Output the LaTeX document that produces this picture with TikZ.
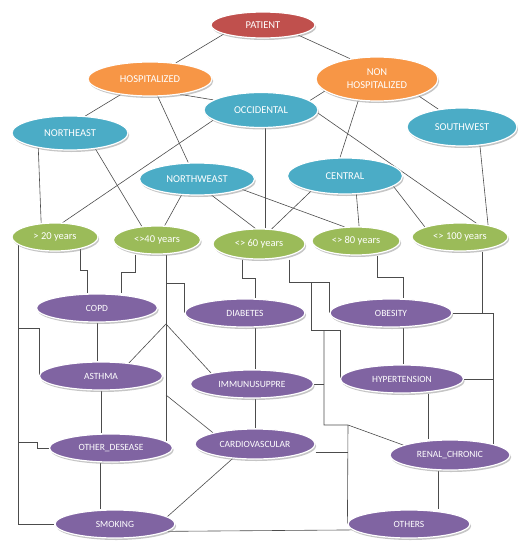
\documentclass[tikz,border=0pt]{standalone}
\usepackage{fontspec}
\setmainfont{Carlito}
\usetikzlibrary{shapes.geometric,shadows,backgrounds}
\definecolor{cred}{HTML}{C0504D}
\definecolor{corange}{HTML}{F79646}
\definecolor{cblue}{HTML}{4BACC6}
\definecolor{cgreen}{HTML}{9BBB59}
\definecolor{cpurple}{HTML}{8064A2}
\begin{document}
\begin{tikzpicture}[x=1pt,y=-1pt,
  bub/.style={ellipse, draw=white, line width=1.2pt, inner sep=0pt, text=white,
    font=\fontsize{10.5}{13}\selectfont, align=center,
    drop shadow={shadow xshift=1.2pt, shadow yshift=-2pt, fill=black!45, opacity=0.5}},
  age/.style={bub, fill=cgreen},
  dis/.style={bub, fill=cpurple, font=\fontsize{9.5}{11}\selectfont},
  reg/.style={bub, fill=cblue},
  conn/.style={draw=black!70, line width=0.6pt}]
\useasboundingbox (0,0) rectangle (518,541);

% top levels
\node[bub, fill=cred, minimum width=104pt, minimum height=26pt] (pat) at (263,25) {PATIENT};
\node[bub, fill=corange, minimum width=124pt, minimum height=34pt] (hosp) at (150,79) {HOSPITALIZED};
\node[bub, fill=corange, minimum width=122pt, minimum height=44pt] (nonh) at (377,79) {NON\\HOSPITALIZED};
% regions
\node[reg, minimum width=114pt, minimum height=35pt] (occ) at (261,110) {OCCIDENTAL};
\node[reg, minimum width=116pt, minimum height=34pt] (ne) at (70,133) {NORTHEAST};
\node[reg, minimum width=110pt, minimum height=38pt] (sw) at (462,127) {SOUTHWEST};
\node[reg, minimum width=115pt, minimum height=32pt] (nw) at (197,179) {NORTHWEAST};
\node[reg, minimum width=115pt, minimum height=36pt] (cen) at (345,176) {CENTRAL};
% ages
\node[age, minimum width=86pt, minimum height=28pt] (a20) at (55,237) {> 20 years};
\node[age, minimum width=87pt, minimum height=28pt] (a40) at (157,240) {<>40 years};
\node[age, minimum width=92pt, minimum height=30pt] (a60) at (259,244) {<> 60 years};
\node[age, minimum width=88pt, minimum height=28pt] (a80) at (356,241) {<> 80 years};
\node[age, minimum width=96pt, minimum height=28pt] (a100) at (460,237) {<> 100 years};
% diseases
\node[dis, minimum width=121pt, minimum height=28pt] (copd) at (97,308) {COPD};
\node[dis, minimum width=120pt, minimum height=28pt] (diab) at (245,313) {DIABETES};
\node[dis, minimum width=122pt, minimum height=28pt] (obes) at (391,313) {OBESITY};
\node[dis, minimum width=123pt, minimum height=28pt] (asth) at (101,376) {ASTHMA};
\node[dis, minimum width=123pt, minimum height=28pt] (immu) at (252,384) {IMMUNUSUPPRE};
\node[dis, minimum width=123pt, minimum height=28pt] (hyp) at (402,379) {HYPERTENSION};
\node[dis, minimum width=123pt, minimum height=28pt] (oth) at (111,448) {OTHER\_DESEASE};
\node[dis, minimum width=120pt, minimum height=30pt] (card) at (255,444) {CARDIOVASCULAR};
\node[dis, minimum width=120pt, minimum height=30pt] (ren) at (450,455) {RENAL\_CHRONIC};
\node[dis, minimum width=120pt, minimum height=28pt] (smok) at (115,524) {SMOKING};
\node[dis, minimum width=122pt, minimum height=28pt] (others) at (409,524) {OTHERS};

% junctions
\coordinate (j20a) at (19,328);
\coordinate (j20b) at (19,442);
\coordinate (j20c) at (37,442);
\coordinate (k20) at (80,270);
\coordinate (k40a) at (135,272);
\coordinate (j40a) at (166,283);
\coordinate (j40b) at (166,324);
\coordinate (j40c) at (166,395);
\coordinate (k60a) at (242,278);
\coordinate (k60b) at (289,282);
\coordinate (k60c) at (311,282);
\coordinate (k60d) at (311,330);
\coordinate (k60e) at (324,330);
\coordinate (k60f) at (324,425);
\coordinate (k60g) at (348,425);
\coordinate (k80) at (377,277);
\coordinate (k100a) at (482,313);
\coordinate (k100b) at (493,313);

\begin{scope}[on background layer]
% upper graph
\draw[conn] (pat.193) -- (hosp.32);
\draw[conn] (pat.-16) -- (nonh.143);
\draw[conn] (hosp.208) -- (ne.48);
\draw[conn] (hosp.-66) -- (nw.118);
\draw[conn] (hosp.-27) -- (occ.168);
\draw[conn] (nonh.193) -- (occ.11);
\draw[conn] (nonh.229) -- (cen.105);
\draw[conn] (nonh.-22) -- (sw.143);
\draw[conn] (occ.192) -- (a20.62);
\draw[conn] ([xshift=4pt]occ.south) -- ([xshift=4pt]occ.south |- a60.north);
\draw[conn] (occ.-3) -- (a100.40);
\draw[conn] (ne.205) -- (a20.135);
\draw[conn] (ne.-32) -- (a40.138);
\draw[conn] (nw.226) -- (a40.62);
\draw[conn] (nw.-48) -- (a60.103);
\draw[conn] (nw.-13) -- (a80.129);
\draw[conn] (cen.204) -- (a60.50);
\draw[conn] (cen.-58) -- (a80.78);
\draw[conn] (cen.-12) -- (a100.164);
\draw[conn] (sw.-46) -- (a100.23);

% > 20 years
\draw[conn] (a20.192) |- (smok.west);
\draw[conn] (j20a) -| (asth.west);
\draw[conn] (j20b) -- (j20c) |- (oth.west);
\draw[conn] (a20.-25) -- (a20.-25 |- k20) -| ([xshift=-10pt]copd.north);

% <>40 years
\draw[conn] ([xshift=-22pt]a40.south) -- (k40a) -| ([xshift=24pt]copd.north);
\draw[conn] ([xshift=9pt]a40.south) -- ([xshift=9pt]a40.south |- oth.7);
\draw[conn] (j40a) -| (diab.west);
\draw[conn] (asth.25) -- (j40b) -- (immu.165);
\draw[conn] (j40c) -- (card.165);

% <> 60 years
\draw[conn] ([xshift=-17pt]a60.south) -- (k60a) -| ([xshift=10pt]diab.north);
\draw[conn] ([xshift=30pt]a60.south) -- (k60b) -| (obes.west);
\draw[conn] (k60c) -- (k60d) -| (hyp.west);
\draw[conn] (k60e) -- (k60f) -- (k60g) -- (ren.168);
\draw[conn] (k60g) -- (others.west);
\draw[conn] (immu.east) -- (immu.east -| k60e);
\draw[conn] ([yshift=-8pt]card.east) -- ([yshift=-8pt]card.east -| k60g);

% <> 80 years
\draw[conn] ([xshift=21pt]a80.south) -- (k80) -| ([xshift=12pt]obes.north);

% <> 100 years
\draw[conn] ([xshift=22pt]a100.south) -- (k100a);
\draw[conn] (obes.east) -- (k100b) -- (k100b |- ren.14);
\draw[conn] (hyp.east) -- (hyp.east -| k100b);

% disease links
\draw[conn] (copd.south) -- (copd.south |- asth.north);
\draw[conn] (asth.south) -- (asth.south |- oth.north);
\draw[conn] ([xshift=-11pt]oth.south) -- ([xshift=-11pt]oth.south |- smok.north);
\draw[conn] ([xshift=10pt]diab.south) -- ([xshift=10pt]diab.south |- immu.north);
\draw[conn] ([xshift=3pt]immu.south) -- ([xshift=3pt]immu.south |- card.north);
\draw[conn] ([xshift=12pt]obes.south) -- ([xshift=12pt]obes.south |- hyp.north);
\draw[conn] ([xshift=26pt]hyp.south) -- ([xshift=26pt]hyp.south |- ren.north);
\draw[conn] ([xshift=-12pt]ren.south) -- ([xshift=-12pt]ren.south |- others.north);
\draw[conn] (card.213) -- (smok.8);
\draw[conn] (smok.-8) -- (others.186);
\end{scope}
\end{tikzpicture}
\end{document}
